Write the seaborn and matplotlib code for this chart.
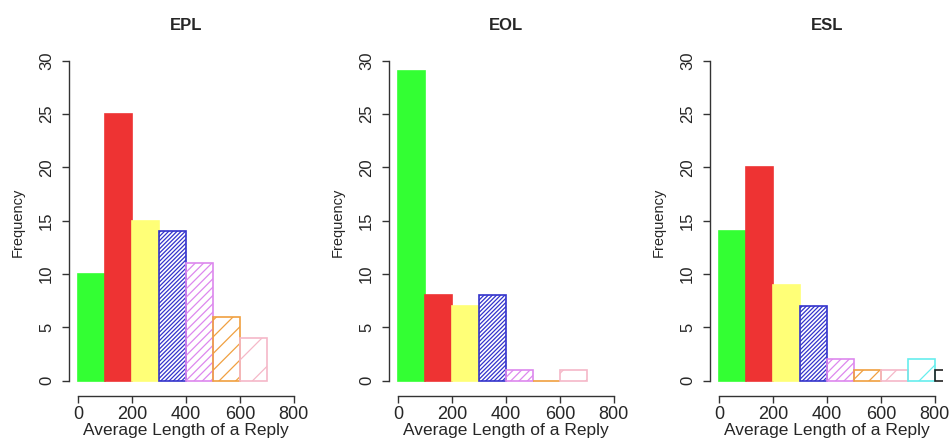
import pandas as pd
import matplotlib
matplotlib.use("Agg")
import matplotlib.pyplot as plt
import seaborn as sns

# counts per 100-wide bin
titles = ["EPL", "EOL", "ESL"]
epl_counts = [10, 25, 15, 14, 11, 6, 4]
eol_counts = [29, 8, 7, 8, 1, 0, 1]
esl_counts = [14, 20, 9, 7, 2, 1, 1, 2, 1]
bin_width = 100

bar_colors = ["#33ff33", "#ee3333", "#ffff77", "#3333cc", "#dd88ee",
              "#f0a040", "#f5b8c8", "#66eeee", "#222222"]
hatches = [None, None, None, "////////", "////", "//", "/", "/", "/"]

sns.set_style("white")
plt.rcParams["font.family"] = ["Liberation Sans", "DejaVu Sans"]
plt.rcParams["hatch.linewidth"] = 0.9

fig = plt.figure(figsize=(9.5, 4.44), dpi=100)
lefts = [69.4, 389.4, 710.4]

for i, (title, counts) in enumerate(zip(titles, [epl_counts, eol_counts, esl_counts])):
    ax = fig.add_axes([lefts[i] / 950, 48 / 444, 233 / 950, 348 / 444])
    edges = [k * bin_width for k in range(len(counts) + 1)]
    df = pd.DataFrame({"length": [e + bin_width / 2 for e in edges[:-1]], "n": counts})
    sns.histplot(data=df, x="length", weights="n", bins=edges, ax=ax)
    for j, p in enumerate(ax.patches):
        c = bar_colors[j]
        p.set_alpha(None)
        if hatches[j] is None:
            p.set_facecolor(c)
            p.set_edgecolor(c)
        else:
            p.set_facecolor("none")
            p.set_edgecolor(c)
            p.set_hatch(hatches[j])
        p.set_linewidth(1.2)
    ax.set_xlim(-32, 832)
    ax.set_ylim(-1.45, 31.2)
    ax.set_xticks(range(0, 801, 200))
    ax.set_yticks(range(0, 31, 5))
    for s in ["top", "right"]:
        ax.spines[s].set_visible(False)
    ax.spines["left"].set_bounds(0, 30)
    ax.spines["bottom"].set_bounds(0, 800)
    for s in ["left", "bottom"]:
        ax.spines[s].set_color("#333333")
        ax.spines[s].set_linewidth(1.0)
    ax.tick_params(axis="x", direction="out", length=5, width=1.0,
                   color="#333333", labelsize=13, pad=2, bottom=True)
    ax.tick_params(axis="y", direction="out", length=5, width=1.0,
                   color="#333333", labelsize=12, pad=6, left=True)
    for lab in ax.get_yticklabels():
        lab.set_rotation(90)
        lab.set_va("center")
    ax.set_xlabel("Average Length of a Reply", fontsize=12.5, labelpad=0)
    ax.set_ylabel("Frequency", fontsize=10.5, labelpad=10)
    ax.set_title(title, fontsize=12, fontweight="bold", pad=13)

fig.savefig("out.png", dpi=100)
